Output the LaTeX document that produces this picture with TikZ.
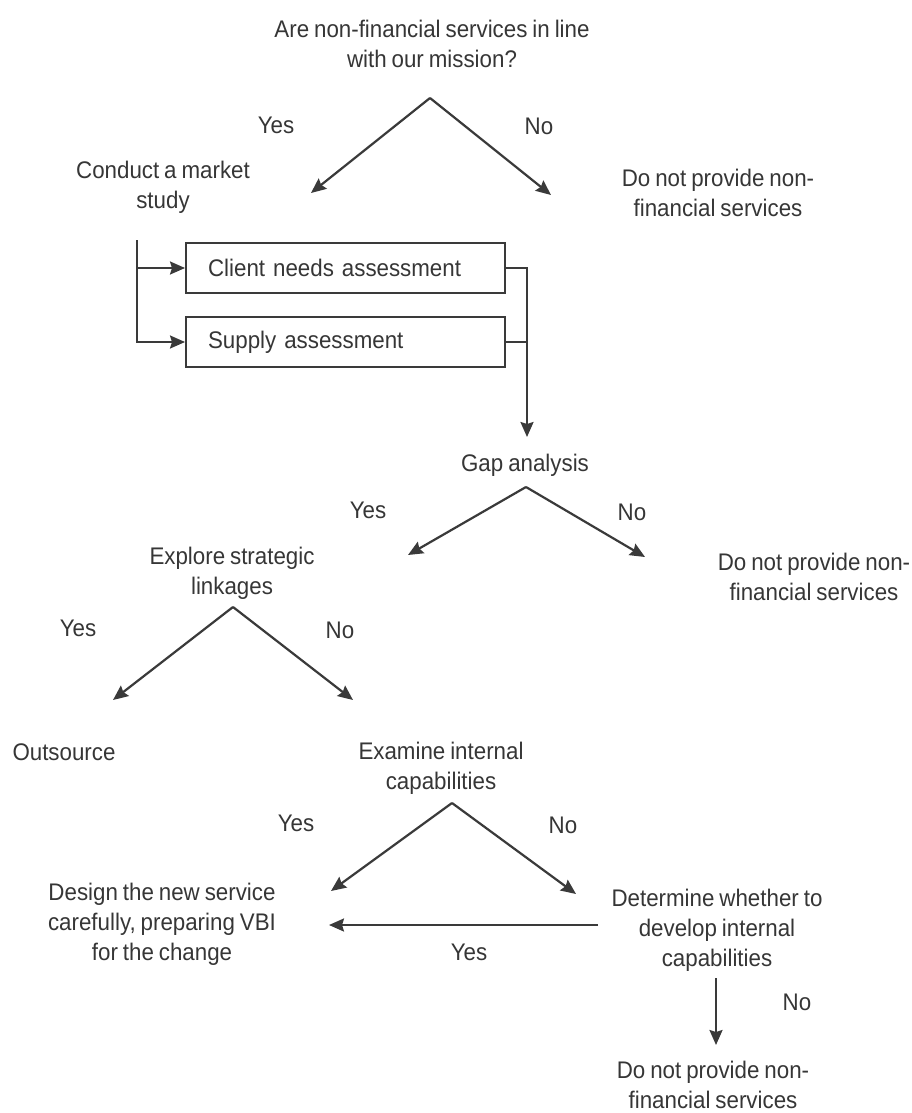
\documentclass[tikz,border=0pt]{standalone}
\usepackage{fontspec}
\setmainfont{Liberation Sans}[FakeStretch=0.93,WordSpace=0.8]
\usetikzlibrary{arrows.meta}
\definecolor{ink}{HTML}{3A3A3A}
\definecolor{txtc}{HTML}{363636}
\begin{document}
\begin{tikzpicture}[x=1pt,y=-1pt,
  txt/.style={text=txtc,align=center,inner sep=0pt,font=\fontsize{24}{30}\selectfont},
  ln/.style={draw=ink,line width=2.2pt},
  arr/.style={ln,-{Stealth[length=15pt,width=13pt,inset=2pt]}},
  stepbox/.style={draw=ink,line width=2.2pt,minimum width=319pt,minimum height=50pt,
    anchor=west,text=txtc,font=\fontsize{24}{30}\selectfont,align=left,
    text width=275pt,inner xsep=22pt,inner ysep=0pt}]
\useasboundingbox[fill=white] (0,0) rectangle (912,1113);

% top decision
\node[txt] (q1) at (432,44) {Are non-financial services in line\\with our mission?};
\node[txt] (yes1) at (276,125) {Yes};
\node[txt] (no1) at (539,126) {No};
\node[txt] (ms) at (163,187) {Conduct a market\\study};
\node[txt] (dn1) at (718,193) {Do not provide non-\\financial services};
\coordinate (ap1) at (430,98);
\coordinate (t1l) at (311,193);
\coordinate (t1r) at (551,195);
\draw[arr] (ap1) -- (t1l);
\draw[arr] (ap1) -- (t1r);

% market study boxes
\node[stepbox] (b1) at (185,268) {Client needs assessment};
\node[stepbox] (b2) at (185,342) {Supply assessment};
\coordinate (mstop) at (137,240);
\draw[arr] (mstop) |- (b1.west);
\draw[arr] (mstop) |- (b2.west);
\coordinate (gaptop) at (527,437);
\draw[arr] (b1.east) -| (gaptop);
\draw[ln] (b2.east) -- (b2.east -| gaptop);

% gap analysis
\node[txt] (gap) at (525,465) {Gap analysis};
\node[txt] (yes2) at (368,510) {Yes};
\node[txt] (no2) at (632,512) {No};
\coordinate (ap2) at (526,487);
\coordinate (t2l) at (408,555);
\coordinate (t2r) at (645,557);
\draw[arr] (ap2) -- (t2l);
\draw[arr] (ap2) -- (t2r);
\node[txt] (dn2) at (814,577) {Do not provide non-\\financial services};

% strategic linkages
\node[txt] (esl) at (232,573) {Explore strategic\\linkages};
\node[txt] (yes3) at (78,628) {Yes};
\node[txt] (no3) at (340,630) {No};
\coordinate (ap3) at (233,607);
\coordinate (t3l) at (113,700);
\coordinate (t3r) at (353,700);
\draw[arr] (ap3) -- (t3l);
\draw[arr] (ap3) -- (t3r);
\node[txt] (out) at (64,752) {Outsource};

% internal capabilities
\node[txt] (eic) at (441,768) {Examine internal\\capabilities};
\node[txt] (yes4) at (296,823) {Yes};
\node[txt] (no4) at (563,825) {No};
\coordinate (ap4) at (452,803);
\coordinate (t4l) at (331,891);
\coordinate (t4r) at (576,894);
\draw[arr] (ap4) -- (t4l);
\draw[arr] (ap4) -- (t4r);

\node[txt] (dsn) at (162,924) {Design the new service\\carefully, preparing VBI\\for the change};
\node[txt] (det) at (717,930) {Determine whether to\\develop internal\\capabilities};
\coordinate (hs) at (598,925);
\coordinate (he) at (329,925);
\draw[arr] (hs) -- (he);
\node[txt] (yes5) at (469,952) {Yes};

\coordinate (vs) at (716,978);
\coordinate (ve) at (716,1045);
\draw[arr] (vs) -- (ve);
\node[txt] (no5) at (797,1002) {No};
\node[txt] (dn3) at (713,1085) {Do not provide non-\\financial services};
\end{tikzpicture}
\end{document}
